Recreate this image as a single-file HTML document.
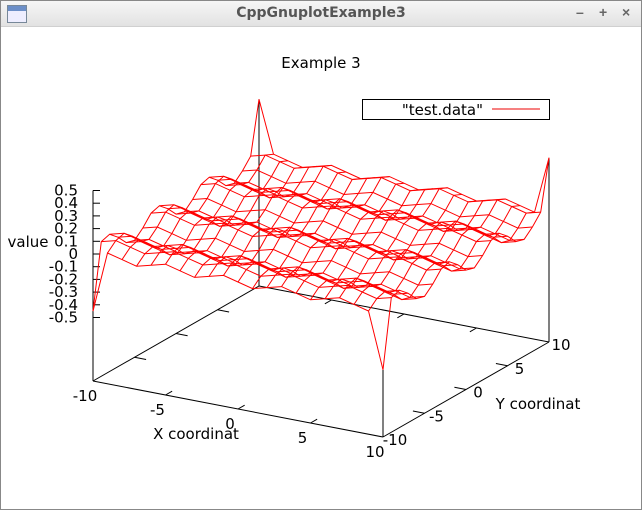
<!DOCTYPE html>
<html><head><meta charset="utf-8"><style>
html,body{margin:0;padding:0;background:#fff}
#win{position:relative;width:640px;height:508px;border:1px solid #888;overflow:hidden;background:#fff}
#tb{position:absolute;left:0;top:0;width:640px;height:25px;background:linear-gradient(#f6f6f6,#e2e2e2);border-bottom:1px solid #d0d0d0}
#tb .t{position:absolute;left:0;right:0;top:4px;text-align:center;font:bold 14px "DejaVu Sans","Liberation Sans",sans-serif;color:#555}
svg text{font-family:"DejaVu Sans","Liberation Sans",sans-serif;font-size:15px;fill:#000}
</style></head><body>
<div id="win">
<div id="tb">
<div style="position:absolute;left:6px;top:4px;width:18px;height:16px;border:1px solid #789;background:linear-gradient(#6c8fc8 0 30%,#eef 30%)"></div>
<div class="t">CppGnuplotExample3</div>
<div style="position:absolute;left:575px;top:3px;font:bold 14px 'Liberation Sans',sans-serif;color:#666">–</div>
<div style="position:absolute;left:598px;top:3px;font:bold 14px 'Liberation Sans',sans-serif;color:#666">+</div>
<div style="position:absolute;left:621px;top:3px;font:bold 14px 'Liberation Sans',sans-serif;color:#666">×</div>
</div>
<svg id="chart" width="642" height="510" style="position:absolute;left:-1px;top:-1px">
<text x="321" y="68" text-anchor="middle">Example 3</text>
<g>
<rect x="362.5" y="99.5" width="187" height="20" fill="none" stroke="#000"/>
<text x="483" y="115" text-anchor="end">"test.data"</text>
<line x1="492" y1="109" x2="540" y2="109" stroke="#e00"/>
</g>
<g id="axes"></g>
<g id="surf"></g>
</svg>
</div>
<script>
const xVals=[-10,-9,-8,-7,-6,-5,-4,-3,-2,-1,0,1,2,3,4,5,6,7,8,9,10];
const yVals=[-10,-9,-8,-7,-6,-5,-4,-3,-2,-1,0,1,2,3,4,5,6,7,8,9,10];
const zTicks=[-0.5,-0.4,-0.3,-0.2,-0.1,0,0.1,0.2,0.3,0.4,0.5];
const zTickLabels=["-0.5","-0.4","-0.3","-0.2","-0.1","0","0.1","0.2","0.3","0.4","0.5"];
const xTicks=[-10,-5,0,5,10];
const yTicks=[-10,-5,0,5,10];
const zData=[
[-0.45,.03,0,-.03,0,.03,0,-.03,0,.03,0,-.03,0,.03,0,-.03,0,.03,0,-.03,-0.47],
[.06,.09,.06,.03,.06,.09,.06,.03,.06,.09,.06,.03,.06,.09,.06,.03,.06,.09,.06,.03,.06],
[.08,.11,.08,.05,.08,.11,.08,.05,.08,.11,.08,.05,.08,.11,.08,.05,.08,.11,.08,.05,.08],
[.02,.05,.02,-.01,.02,.05,.02,-.01,.02,.05,.02,-.01,.02,.05,.02,-.01,.02,.05,.02,-.01,.02],
[-.06,-.03,-.06,-.09,-.06,-.03,-.06,-.09,-.06,-.03,-.06,-.09,-.06,-.03,-.06,-.09,-.06,-.03,-.06,-.09,-.06],
[-.08,-.05,-.08,-.11,-.08,-.05,-.08,-.11,-.08,-.05,-.08,-.11,-.08,-.05,-.08,-.11,-.08,-.05,-.08,-.11,-.08],
[-.02,.01,-.02,-.05,-.02,.01,-.02,-.05,-.02,.01,-.02,-.05,-.02,.01,-.02,-.05,-.02,.01,-.02,-.05,-.02],
[.06,.09,.06,.03,.06,.09,.06,.03,.06,.09,.06,.03,.06,.09,.06,.03,.06,.09,.06,.03,.06],
[.08,.11,.08,.05,.08,.11,.08,.05,.08,.11,.08,.05,.08,.11,.08,.05,.08,.11,.08,.05,.08],
[.02,.05,.02,-.01,.02,.05,.02,-.01,.02,.05,.02,-.01,.02,.05,.02,-.01,.02,.05,.02,-.01,.02],
[-.06,-.03,-.06,-.09,-.06,-.03,-.06,-.09,-.06,-.03,-.06,-.09,-.06,-.03,-.06,-.09,-.06,-.03,-.06,-.09,-.06],
[-.08,-.05,-.08,-.11,-.08,-.05,-.08,-.11,-.08,-.05,-.08,-.11,-.08,-.05,-.08,-.11,-.08,-.05,-.08,-.11,-.08],
[-.02,.01,-.02,-.05,-.02,.01,-.02,-.05,-.02,.01,-.02,-.05,-.02,.01,-.02,-.05,-.02,.01,-.02,-.05,-.02],
[.06,.09,.06,.03,.06,.09,.06,.03,.06,.09,.06,.03,.06,.09,.06,.03,.06,.09,.06,.03,.06],
[.08,.11,.08,.05,.08,.11,.08,.05,.08,.11,.08,.05,.08,.11,.08,.05,.08,.11,.08,.05,.08],
[.02,.05,.02,-.01,.02,.05,.02,-.01,.02,.05,.02,-.01,.02,.05,.02,-.01,.02,.05,.02,-.01,.02],
[-.06,-.03,-.06,-.09,-.06,-.03,-.06,-.09,-.06,-.03,-.06,-.09,-.06,-.03,-.06,-.09,-.06,-.03,-.06,-.09,-.06],
[-.08,-.05,-.08,-.11,-.08,-.05,-.08,-.11,-.08,-.05,-.08,-.11,-.08,-.05,-.08,-.11,-.08,-.05,-.08,-.11,-.08],
[-.02,.01,-.02,-.05,-.02,.01,-.02,-.05,-.02,.01,-.02,-.05,-.02,.01,-.02,-.05,-.02,.01,-.02,-.05,-.02],
[.06,.09,.06,.03,.06,.09,.06,.03,.06,.09,.06,.03,.06,.09,.06,.03,.06,.09,.06,.03,.06],
[0.47,.06,.03,0,.03,.06,.03,0,.03,.06,.03,0,.03,.06,.03,0,.03,.06,.03,0,0.45]
];
const NS='http://www.w3.org/2000/svg';
const X0=93,Y0=381,XU=[14.5,2.8],YU=[8.3,-4.75],ZS=127,ZBASE=-1;
function P(x,y,z){return [X0+(x+10)*XU[0]+(y+10)*YU[0], Y0+(x+10)*XU[1]+(y+10)*YU[1]-(z-ZBASE)*ZS];}
function mk(tag,parent,attrs){const e=document.createElementNS(NS,tag);for(const k in attrs)e.setAttribute(k,attrs[k]);parent.appendChild(e);return e;}
const axes=document.getElementById('axes'),surf=document.getElementById('surf');
function seg(a,b,parent,col){return mk('line',parent,{x1:a[0],y1:a[1],x2:b[0],y2:b[1],stroke:col,'stroke-width':1});}
let e;
e=seg(P(-10,-10,ZBASE),P(10,-10,ZBASE),axes,'#000');


e=seg(P(10,-10,ZBASE),P(10,10,ZBASE),axes,'#000');


e=seg(P(-10,-10,ZBASE),P(-10,10,ZBASE),axes,'#000');


e=seg(P(-10,10,ZBASE),P(10,10,ZBASE),axes,'#000');


e=seg(P(-10,-10,ZBASE),P(-10,-10,0.5),axes,'#000');


zTicks.forEach((z,i)=>{const p=P(-10,-10,z);
 e=seg(p,[p[0]+7,p[1]],axes,'#000');
 
 
 const t=mk('text',axes,{x:p[0]-15,y:p[1]+5,'text-anchor':'end'});t.textContent=zTickLabels[i];
 
 
});
[[0,0],[0,20],[20,0],[20,20]].forEach(([j,i])=>{
 if(i===0&&j===0)return;
 e=seg(P(xVals[i],yVals[j],ZBASE),P(xVals[i],yVals[j],zData[j][i]),axes,'#000');
 
 
});
xTicks.forEach(x=>{
 if(x!==-10&&x!==10){
  e=seg(P(x,-10,ZBASE),P(x,-9.2,ZBASE),axes,'#000');
  
  
  e=seg(P(x,10,ZBASE),P(x,9.2,ZBASE),axes,'#000');
  
  
 }
 const p=P(x,-10,ZBASE);
 const t=mk('text',axes,{x:p[0]-8,y:p[1]+20,'text-anchor':'middle'});t.textContent=String(x);
 
 
});
yTicks.forEach(y=>{
 if(y!==-10&&y!==10){
  e=seg(P(10,y,ZBASE),P(9.2,y,ZBASE),axes,'#000');
  
  
  e=seg(P(-10,y,ZBASE),P(-9.2,y,ZBASE),axes,'#000');
  
  
 }
 const p=P(10,y,ZBASE);
 const t=mk('text',axes,{x:p[0]+12,y:p[1]+8,'text-anchor':'middle'});t.textContent=String(y);
 
 
});
let t;
t=mk('text',axes,{x:196,y:439,'text-anchor':'middle'});t.textContent='X coordinat';


t=mk('text',axes,{x:538,y:409,'text-anchor':'middle'});t.textContent='Y coordinat';


t=mk('text',axes,{x:28,y:247,'text-anchor':'middle'});t.textContent='value';


for(let j=0;j<yVals.length;j++){
 const pts=xVals.map((x,i)=>P(x,yVals[j],zData[j][i]).map(v=>v.toFixed(1)).join(',')).join(' ');
 const pl=mk('polyline',surf,{points:pts,fill:'none',stroke:'#f00','stroke-width':1});
 
 
}
for(let i=0;i<xVals.length;i++){
 const pts=yVals.map((y,j)=>P(xVals[i],y,zData[j][i]).map(v=>v.toFixed(1)).join(',')).join(' ');
 const pl=mk('polyline',surf,{points:pts,fill:'none',stroke:'#f00','stroke-width':1});
 
 
}
</script>
</body></html>
